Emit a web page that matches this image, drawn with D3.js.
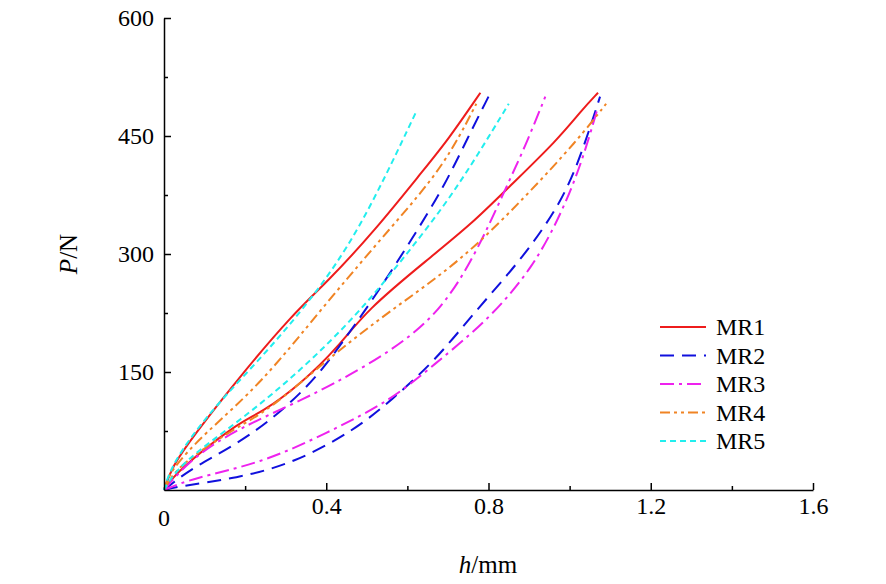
<!DOCTYPE html>
<html><head><meta charset="utf-8">
<script src="https://cdn.jsdelivr.net/npm/d3@7"></script>
<style>body{margin:0;background:#fff}svg text{font-family:"Liberation Serif","Times New Roman",serif !important}</style>
</head><body><svg id="c" width="886" height="584"></svg>
<script>
const seriesNames=["MR1","MR2","MR3","MR4","MR5"];
const colors=["#ee1c1c","#1010dd","#ee22ee","#f08424","#22eeee"];
const dashes=["","14,8","14,5,3,5","10,4,3,4,3,4","6,4"];
const xTicks=[0,0.4,0.8,1.2,1.6];
const yTicks=[150,300,450,600];
// each series: [curveA, curveB] as [h, P]
const MR1=[[[0,0],[0.02,30],[0.07,67],[0.18,140],[0.32,225],[0.40,263],[0.52,330],[0.64,407],[0.70,445],[0.78,505]],
 [[0,0],[0.03,23],[0.18,85],[0.24,98],[0.34,136],[0.43,182],[0.50,229],[0.65,293],[0.76,339],[0.85,385],[0.97,445],[1.03,483],[1.07,505]]];
const MR2=[[[0,0],[0.07,29],[0.21,66],[0.36,131],[0.45,195],[0.52,246],[0.61,318],[0.69,385],[0.75,449],[0.80,500]],
 [[0,0],[0.03,4],[0.18,15],[0.32,34],[0.47,76],[0.56,114],[0.67,165],[0.77,229],[0.88,292],[0.98,365],[1.03,428],[1.075,500]]];
const MR3=[[[0,0],[0.07,42],[0.19,80],[0.34,114],[0.50,157],[0.67,216],[0.77,301],[0.84,381],[0.89,436],[0.94,500]],
 [[0,0],[0.07,15],[0.24,34],[0.40,72],[0.56,114],[0.66,157],[0.80,216],[0.91,283],[0.98,352],[1.03,416],[1.07,487]]];
const MR4=[[[0,0],[0.015,25],[0.10,72],[0.24,135],[0.40,238],[0.56,334],[0.69,411],[0.77,491]],
 [[0,0],[0.03,30],[0.18,80],[0.26,102],[0.40,165],[0.56,229],[0.73,290],[0.89,372],[1.02,445],[1.09,491]]];
const MR5=[[[0,0],[0.02,34],[0.11,98],[0.24,168],[0.36,240],[0.48,327],[0.62,479]],
 [[0,0],[0.04,34],[0.19,89],[0.34,153],[0.48,225],[0.58,288],[0.69,360],[0.77,423],[0.85,491]]];
const data=[MR1,MR2,MR3,MR4,MR5];

const svg=d3.select("#c");
const x=d3.scaleLinear().domain([0,1.6]).range([164,813]);
const y=d3.scaleLinear().domain([0,600]).range([490,18]);
const line=d3.line().x(d=>x(d[0])).y(d=>y(d[1])).curve(d3.curveBasis);
const g=svg.append("g");
data.forEach((s,i)=>s.forEach(c=>{
  g.append("path").attr("d",line(c)).attr("fill","none").attr("stroke",colors[i])
   .attr("stroke-width",2).attr("stroke-dasharray",dashes[i]||null);
}));
const xa=svg.append("g").attr("transform","translate(0,490)")
 .call(d3.axisBottom(x).tickValues(xTicks).tickFormat(d=>d===0?"0":d3.format(".1f")(d)).tickSizeInner(-7).tickSizeOuter(0).tickPadding(10));
svg.append("g").attr("transform","translate(0,490)")
 .call(d3.axisBottom(x).tickValues([0.2,0.6,1.0,1.4]).tickFormat("").tickSizeInner(-4).tickSizeOuter(0)).select(".domain").remove();
const ya=svg.append("g").attr("transform","translate(164,0)")
 .call(d3.axisLeft(y).tickValues(yTicks).tickSizeInner(-7).tickSizeOuter(0).tickPadding(10));
svg.append("g").attr("transform","translate(164,0)")
 .call(d3.axisLeft(y).tickValues([75,225,375,525]).tickFormat("").tickSizeInner(-4).tickSizeOuter(0)).select(".domain").remove();
svg.selectAll("g").attr("font-family",null);
svg.selectAll(".domain,.tick line").attr("stroke","#000").attr("stroke-width",1.5);
svg.selectAll(".tick text").attr("font-size",24).attr("fill","#000");
xa.selectAll(".tick text").attr("dy","0.6em");
svg.append("text").attr("x",164).attr("y",526).attr("text-anchor","middle").attr("font-size",24).text("0");
xa.selectAll(".tick").filter(d=>d===0).remove();
const xt=svg.append("text").attr("x",488).attr("y",573).attr("text-anchor","middle").attr("font-size",25);
xt.append("tspan").attr("font-style","italic").text("h");xt.append("tspan").text("/mm");
const yt=svg.append("text").attr("transform","translate(77,254) rotate(-90)").attr("text-anchor","middle").attr("font-size",25);
yt.append("tspan").attr("font-style","italic").text("P");yt.append("tspan").text("/N");
const lg=svg.append("g");
seriesNames.forEach((n,i)=>{
  const yy=327+i*28.5;
  lg.append("line").attr("x1",660).attr("x2",706).attr("y1",yy).attr("y2",yy).attr("stroke",colors[i])
   .attr("stroke-width",2).attr("stroke-dasharray",dashes[i]||null);
  lg.append("text").attr("x",716).attr("y",yy+8).attr("font-size",24).text(n);
});
</script></body></html>
